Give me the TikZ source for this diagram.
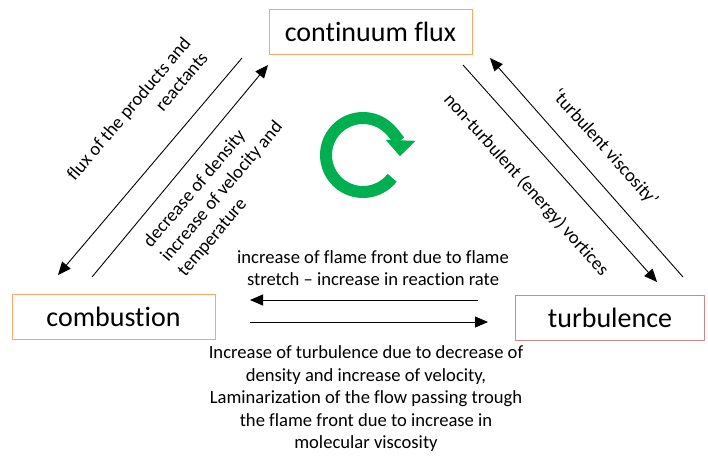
\documentclass[tikz,border=0pt]{standalone}
\usepackage{fontspec}
\setmainfont[Ligatures=NoCommon]{Carlito}
\usetikzlibrary{arrows.meta, positioning}
\definecolor{boxorange}{HTML}{F8A66B}
\definecolor{boxred}{HTML}{D58585}
\definecolor{cyclegreen}{HTML}{00B050}

\tikzset{
  state/.style={draw=#1, line width=1pt, minimum height=45pt, inner sep=0pt,
    font=\fontsize{28}{32}\selectfont},
  link/.style={line width=0.9pt, -{Triangle[length=13pt,width=11pt]}},
  note/.style={font=\fontsize{18.6}{22.5}\selectfont, inner sep=0pt},
}

\begin{document}
\begin{tikzpicture}[x=1pt,y=1pt]
    \useasboundingbox (0,0) rectangle (708,-455);
    % the three boxes
    \node[state=boxorange, minimum width=203pt] (flux) at (370.5,-32)  {continuum flux};
    \node[state=boxorange, minimum width=203pt] (comb) at (113.5,-317) {combustion};
    \node[state=boxred,    minimum width=189pt] (turb) at (610,-317.5) {turbulence};

    % arrow ends
    \coordinate (fa) at (242,-58);  \coordinate (ca) at (58,-275);
    \coordinate (cb) at (92,-277);  \coordinate (fb) at (268,-65);
    \coordinate (fc) at (463,-65);  \coordinate (tc) at (657,-282);
    \coordinate (td) at (683,-277); \coordinate (fd) at (490,-58);
    \coordinate (te) at (478,-300); \coordinate (ce) at (250,-300);
    \coordinate (cf) at (250,-322); \coordinate (tf) at (488,-322);

    \draw[link] (fa) -- (ca);
    \draw[link] (cb) -- (fb);
    \draw[link] (fc) -- (tc);
    \draw[link] (td) -- (fd);
    \draw[link] (te) -- (ce);
    \draw[link] (cf) -- (tf);

    % labels
    \node[note, rotate=49.7, align=right] (lfa) at (137,-116) {flux of the products and\\reactants};
    \node[note, rotate=49.7, align=left]  (lfb) at (222,-192) {decrease of density\\increase of velocity and\\temperature};
    \node[note, rotate=-48.2] (lfc) at (526,-185) {non-turbulent (energy) vortices};
    \node[note, rotate=-48.2] (lfd) at (605,-148) {‘turbulent viscosity’};
    \node[note, align=center] (lte) at (373,-268) {increase of flame front due to flame\\stretch – increase in reaction rate};
    \node[note, align=center] (ltf) at (366,-399) {Increase of turbulence due to decrease of\\density and increase of velocity,\\Laminarization of the flow passing trough\\the flame front due to increase in\\molecular viscosity};

    % cycle
    \coordinate (cyc) at (363,-155);
    \draw[cyclegreen, line width=12pt, -{Triangle[length=16pt,width=29pt]}]
        (cyc) ++(-38:37) arc[start angle=-38, end angle=-362, radius=37];
\end{tikzpicture}
\end{document}
